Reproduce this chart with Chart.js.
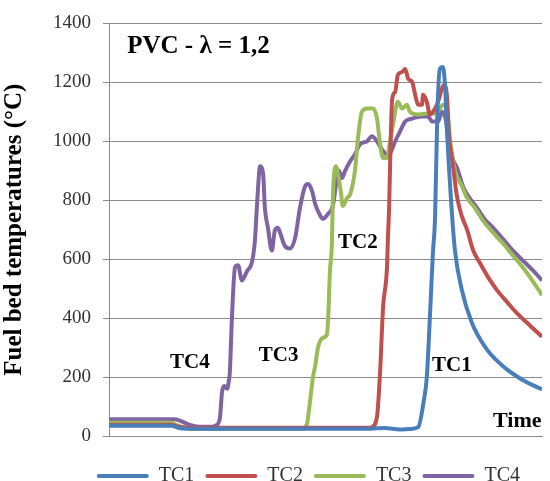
<!DOCTYPE html>
<html>
<head>
<meta charset="utf-8">
<title>PVC fuel bed temperatures</title>
<script src="https://cdn.jsdelivr.net/npm/chart.js@4.4.0/dist/chart.umd.min.js"></script>
<style>
html,body{margin:0;padding:0;background:#fff}
canvas{display:block}
</style>
</head>
<body>
<canvas id="tempChart" width="550" height="481"></canvas>
<script>
// series (time is arbitrary, 0..100 across the plot)
const seriesNames = ['TC1', 'TC2', 'TC3', 'TC4'];
const seriesColors = ['#4a7ebb', '#c0504d', '#9bbb59', '#8064a2'];
const yTicks = [0, 200, 400, 600, 800, 1000, 1200, 1400];

const tc1Time = [0, 14.5, 15.9, 18.2, 60.3, 63.7, 67.2, 69.5, 71.4, 72.7, 73.4, 74.1, 74.8, 75.3, 75.8, 76.4, 77.1, 77.6, 78.1, 79.0, 79.9, 81.5, 83.8, 87.3, 91.9, 96.5, 100];
const tc1Temp = [35, 35, 28, 25, 25, 27, 22, 24, 30, 120, 200, 400, 620, 741, 1077, 1245, 1252, 1192, 1023, 798, 629, 495, 384, 293, 226, 182, 158];

const tc2Time = [0, 14.5, 15.9, 18.2, 60.3, 60.7, 61.9, 62.6, 63.3, 64.2, 64.4, 64.7, 64.9, 65.4, 66.1, 66.7, 67.7, 68.4, 69.1, 70.0, 70.7, 71.4, 72.3, 72.5, 73.4, 74.1, 75.3, 76.0, 76.9, 77.4, 78.1, 78.5, 79.2, 80.4, 81.5, 82.7, 84.1, 85.7, 87.5, 89.6, 91.9, 94.2, 97.2, 100];
const tc2Temp = [38, 38, 32, 28, 28, 30, 67, 215, 438, 572, 663, 780, 909, 1144, 1168, 1225, 1235, 1245, 1212, 1202, 1158, 1124, 1124, 1158, 1134, 1091, 1111, 1134, 1178, 1192, 1144, 1023, 943, 810, 745, 700, 630, 586, 540, 495, 455, 417, 375, 337];

const tc3Time = [0, 14.5, 15.9, 17.6, 21.0, 44.6, 45.7, 46.4, 47.1, 47.6, 48.3, 49.4, 50.3, 50.6, 51.0, 51.5, 51.7, 52.4, 53.1, 53.6, 54.0, 55.0, 55.7, 56.8, 57.5, 58.4, 59.6, 61.0, 61.9, 62.6, 63.3, 64.2, 64.9, 65.6, 66.7, 67.7, 68.8, 69.5, 71.4, 73.7, 75.3, 76.4, 77.1, 78.1, 78.8, 79.9, 81.5, 82.7, 84.5, 86.4, 88.7, 91.0, 93.3, 95.6, 97.9, 100];
const tc3Temp = [45, 45, 35, 27, 24, 24, 40, 114, 200, 236, 303, 333, 343, 394, 552, 663, 808, 915, 870, 821, 781, 808, 820, 900, 1010, 1100, 1111, 1111, 1077, 990, 943, 943, 1000, 1057, 1134, 1111, 1124, 1100, 1091, 1094, 1094, 1111, 1124, 1100, 1000, 900, 848, 808, 774, 730, 690, 653, 612, 572, 525, 478];

const tc4Time = [0, 15.2, 16.4, 18.2, 20.3, 23.3, 24.7, 25.6, 26.1, 26.6, 27.3, 27.7, 27.9, 28.4, 29.1, 29.8, 30.7, 31.9, 33.0, 33.7, 34.2, 34.9, 35.6, 36.0, 36.7, 37.6, 38.3, 39.0, 39.5, 40.6, 41.8, 43.0, 44.1, 45.3, 46.0, 46.9, 47.6, 48.7, 49.4, 50.6, 51.7, 52.7, 53.1, 53.8, 54.5, 55.7, 56.8, 58.0, 59.6, 60.7, 61.9, 63.0, 64.2, 64.9, 66.1, 67.2, 68.4, 70.0, 72.3, 73.7, 74.6, 76.0, 76.9, 77.6, 78.3, 79.4, 80.4, 81.8, 83.4, 85.0, 86.8, 88.7, 91.0, 93.3, 95.6, 97.9, 100];
const tc4Temp = [57, 57, 52, 40, 32, 31, 36, 60, 148, 170, 160, 190, 215, 404, 572, 579, 528, 560, 589, 663, 788, 915, 888, 774, 707, 629, 697, 707, 690, 645, 636, 673, 774, 848, 855, 831, 788, 750, 737, 754, 781, 880, 900, 875, 899, 932, 956, 990, 1000, 1017, 1000, 973, 956, 959, 1000, 1033, 1067, 1077, 1084, 1084, 1067, 1067, 1100, 1084, 1023, 940, 909, 845, 805, 774, 735, 707, 668, 629, 595, 562, 528];

const seriesTimes = [tc1Time, tc2Time, tc3Time, tc4Time];
const seriesTemps = [tc1Temp, tc2Temp, tc3Temp, tc4Temp];

// text placed inside the plot, in data units
const notes = [
  {text: 'PVC - \u03bb = 1,2', t: 4.2, v: 1299, size: 25},
  {text: 'TC4', t: 14.1, v: 232, size: 21},
  {text: 'TC3', t: 34.6, v: 256, size: 21},
  {text: 'TC2', t: 52.9, v: 639, size: 21},
  {text: 'TC1', t: 74.6, v: 219, size: 21},
  {text: 'Time', t: 88.7, v: 30, size: 22}
];

const serif = '"Liberation Serif", "Times New Roman", serif';

const datasets = seriesNames.map((name, i) => ({
  label: name,
  data: seriesTimes[i].map((t, k) => ({x: t, y: seriesTemps[i][k]})),
  borderColor: seriesColors[i],
  backgroundColor: seriesColors[i],
  borderWidth: 4,
  pointRadius: 0,
  cubicInterpolationMode: 'monotone'
}));

const notesPlugin = {
  id: 'notes',
  afterDatasetsDraw(chart) {
    const {ctx, scales} = chart;
    ctx.save();
    ctx.fillStyle = '#000';
    ctx.textBaseline = 'alphabetic';
    ctx.textAlign = 'left';
    notes.forEach(n => {
      ctx.font = 'bold ' + n.size + 'px ' + serif;
      ctx.fillText(n.text, scales.x.getPixelForValue(n.t), scales.y.getPixelForValue(n.v));
    });
    ctx.restore();
  }
};

// nudge the legend to where it sits in the picture
const legendNudge = {
  id: 'legendNudge',
  afterLayout(chart) {
    const lg = chart.legend;
    lg.left -= 11; lg.right -= 11;
    lg.top += 15; lg.bottom += 15;
  }
};

new Chart(document.getElementById('tempChart'), {
  type: 'line',
  data: {datasets: datasets},
  options: {
    responsive: false,
    animation: false,
    layout: {padding: {top: 21, right: 8, left: 0, bottom: 0}},
    scales: {
      x: {
        type: 'linear',
        min: 0,
        max: 100,
        ticks: {display: false},
        grid: {display: false},
        border: {display: true, color: '#8c8c8c', width: 1},
        afterFit: s => { s.height = 4; }
      },
      y: {
        min: 0,
        max: 1400,
        afterBuildTicks: s => { s.ticks = yTicks.map(v => ({value: v})); },
        ticks: {
          color: '#333',
          padding: 12,
          font: {family: serif, size: 19},
          callback: v => String(v)
        },
        grid: {color: '#8c8c8c', lineWidth: 1, tickLength: 6},
        border: {display: true, color: '#8c8c8c', width: 1},
        title: {
          display: true,
          text: 'Fuel bed temperatures (\u00b0C)',
          color: '#000',
          padding: {top: 0, bottom: 0},
          font: {family: serif, size: 25, weight: 'bold'}
        },
        afterFit: s => { s.width = 109; }
      }
    },
    plugins: {
      legend: {
        position: 'bottom',
        align: 'end',
        labels: {
          boxWidth: 52,
          boxHeight: 4,
          padding: 11,
          color: '#333',
          font: {family: serif, size: 20},
          useBorderRadius: true,
          borderRadius: 2,
          generateLabels: chart => Chart.defaults.plugins.legend.labels.generateLabels(chart).map(l => Object.assign(l, {lineWidth: 0}))
        }
      },
      tooltip: {enabled: false}
    }
  },
  plugins: [notesPlugin, legendNudge]
});
</script>
</body>
</html>
